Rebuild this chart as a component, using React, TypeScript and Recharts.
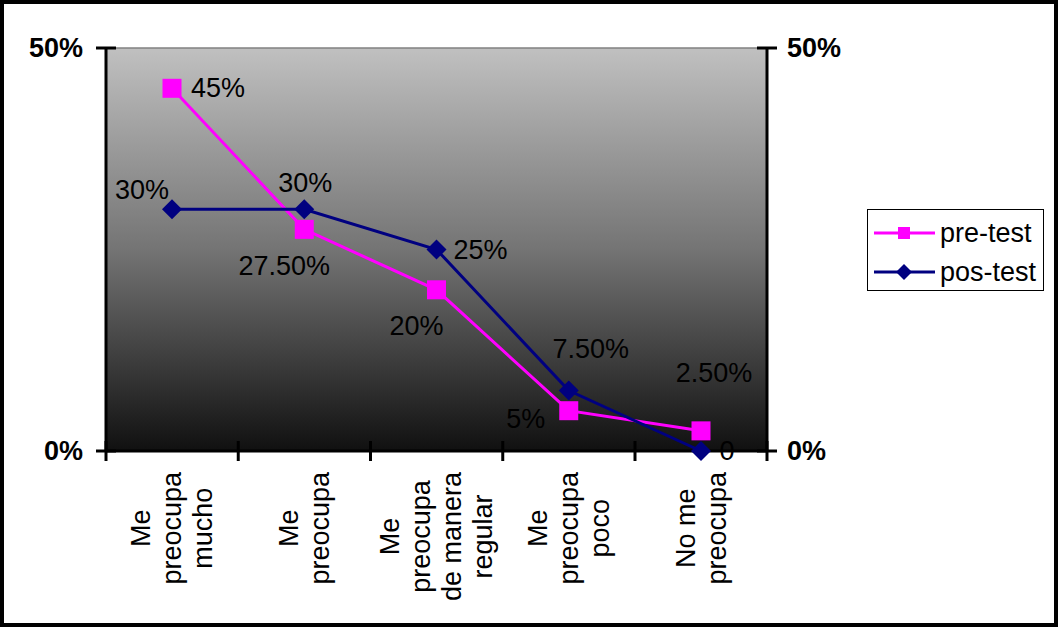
import React from 'react';
import { LineChart, Line, XAxis, YAxis, CartesianGrid, ReferenceLine } from 'recharts';

// Response categories (line breaks as printed under the axis)
const categories = [
  'Me\npreocupa\nmucho',
  'Me\npreocupa',
  'Me\npreocupa\nde manera\nregular',
  'Me\npreocupa\npoco',
  'No me\npreocupa',
];

// Percent of respondents per category
const preTest = [45, 27.5, 20, 5, 2.5];
const posTest = [30, 30, 25, 7.5, 0];

const yTicks = [0, 50];

// Where each value label sits relative to its point: [dx of text centre, dy of baseline]
const preLabelOffsets: [number, number][] = [[46, 9], [-20, 46], [-20, 45], [-43, 17], [13, -49]];
const posLabelOffsets: [number, number][] = [[-30, -10], [1, -17], [44, 9], [22, -33], [26, 9]];

const data = categories.map((c, i) => ({ cat: c, pre: preTest[i], pos: posTest[i] }));

const W = 1058;
const H = 627;
const HALF_BAND = 66;
const FONT = "'Liberation Sans', Arial, sans-serif";
const FS = 27;
const PINK = '#ff00ff';
const NAVY = '#000080';

const fmtValue = (v: number) => (v === 0 ? '0' : Number.isInteger(v) ? `${v}%` : `${v.toFixed(2)}%`);

let measureCtx: CanvasRenderingContext2D | null = null;
const textWidth = (s: string) => {
  if (!measureCtx && typeof document !== 'undefined') {
    measureCtx = document.createElement('canvas').getContext('2d');
  }
  if (measureCtx) {
    measureCtx.font = `${FS}px ${FONT}`;
    return measureCtx.measureText(s).width;
  }
  return s.length * FS * 0.5;
};

const CategoryTick = (props: any) => {
  const { x, y, payload, index } = props;
  const lines = String(payload.value).split('\n');
  const maxW = Math.max(...lines.map(textWidth));
  const cy = y + 21 + maxW / 2;
  const lh = 31;
  const n = lines.length;
  return (
    <g>
      <line x1={x - HALF_BAND} x2={x - HALF_BAND} y1={y - 10} y2={y + 10} stroke="#000" strokeWidth={3} />
      {index === categories.length - 1 && (
        <line x1={x + HALF_BAND} x2={x + HALF_BAND} y1={y - 10} y2={y + 10} stroke="#000" strokeWidth={3} />
      )}
      <g transform={`rotate(-90, ${x}, ${cy})`}>
        {lines.map((l, i) => (
          <text
            key={i}
            x={x}
            y={cy + (i - (n - 1) / 2) * lh + FS * 0.35}
            textAnchor="middle"
            fontFamily={FONT}
            fontSize={FS}
            fill="#000"
          >
            {l}
          </text>
        ))}
      </g>
    </g>
  );
};

const YTick = (props: any) => {
  const { x, y, payload, side } = props;
  const right = side === 'right';
  return (
    <g>
      <line x1={x - 10} x2={x + 10} y1={y} y2={y} stroke="#000" strokeWidth={3} />
      <text
        x={right ? x + 20 : x - 23}
        y={y + 9}
        textAnchor={right ? 'start' : 'end'}
        fontFamily={FONT}
        fontSize={FS}
        fontWeight="bold"
        fill="#000"
      >
        {`${payload.value}%`}
      </text>
    </g>
  );
};

const makeLabel = (offsets: [number, number][]) => (p: any) => {
  const { x, y, value, index } = p;
  const [dx, dy] = offsets[index] || [0, 0];
  return (
    <text key={`lbl-${index}`} x={x + dx} y={y + dy} textAnchor="middle" fontFamily={FONT} fontSize={FS} fill="#000">
      {fmtValue(Number(value))}
    </text>
  );
};

const SquareDot = (p: any) => {
  const { cx, cy, index } = p;
  if (cx == null || cy == null) return <g key={`sq-${index}`} />;
  return <rect key={`sq-${index}`} x={cx - 9.5} y={cy - 9.5} width={19} height={19} fill={PINK} />;
};

const DiamondDot = (p: any) => {
  const { cx, cy, index } = p;
  if (cx == null || cy == null) return <g key={`dm-${index}`} />;
  return (
    <polygon
      key={`dm-${index}`}
      points={`${cx},${cy - 10} ${cx + 10},${cy} ${cx},${cy + 10} ${cx - 10},${cy}`}
      fill={NAVY}
    />
  );
};

const LegendBox = () => {
  const row = (name: string, color: string, marker: 'square' | 'diamond') => (
    <div style={{ display: 'flex', alignItems: 'center', height: 39 }}>
      <svg width={66} height={24} style={{ display: 'block' }}>
        <line x1={0} x2={61} y1={12} y2={12} stroke={color} strokeWidth={3} />
        {marker === 'square' ? (
          <rect x={24} y={6} width={12} height={12} fill={color} />
        ) : (
          <polygon points="30,4 38,12 30,20 22,12" fill={color} />
        )}
      </svg>
      <span style={{ fontFamily: FONT, fontSize: FS, color: '#000', lineHeight: '26px' }}>{name}</span>
    </div>
  );
  return (
    <div
      style={{
        position: 'absolute',
        left: 867,
        top: 209,
        boxSizing: 'border-box',
        width: 177,
        height: 82,
        border: '1.5px solid #000',
        background: '#fff',
        padding: '3px 0 0 6px',
      }}
    >
      {row('pre-test', PINK, 'square')}
      {row('pos-test', NAVY, 'diamond')}
    </div>
  );
};

export default function App() {
  return (
    <div style={{ position: 'absolute', left: 0, top: 0, width: W, height: H, background: '#fff' }}>
      <LineChart
        width={W}
        height={H}
        data={data}
        margin={{ top: 48, right: 231, bottom: 26, left: 46 }}
        style={{ position: 'absolute', left: 0, top: 0 }}
      >
        <defs>
          <linearGradient id="plotShade" x1="0" y1="0" x2="0" y2="1">
            <stop offset="0%" stopColor="#c0c0c0" />
            <stop offset="50%" stopColor="#747474" />
            <stop offset="100%" stopColor="#101010" />
          </linearGradient>
        </defs>
        <CartesianGrid fill="url(#plotShade)" horizontal={false} vertical={false} />
        <XAxis
          dataKey="cat"
          xAxisId="x"
          interval={0}
          height={150}
          padding={{ left: HALF_BAND, right: HALF_BAND }}
          axisLine={{ stroke: '#000', strokeWidth: 3 }}
          tickLine={false}
          tickSize={0}
          tickMargin={0}
          tick={<CategoryTick />}
        />
        <YAxis
          yAxisId="left"
          orientation="left"
          width={60}
          domain={[0, 50]}
          ticks={yTicks}
          axisLine={{ stroke: '#000', strokeWidth: 3 }}
          tickLine={false}
          tickSize={0}
          tickMargin={0}
          tick={<YTick side="left" />}
        />
        <YAxis
          yAxisId="right"
          orientation="right"
          width={60}
          domain={[0, 50]}
          ticks={yTicks}
          axisLine={{ stroke: '#000', strokeWidth: 3 }}
          tickLine={false}
          tickSize={0}
          tickMargin={0}
          tick={<YTick side="right" />}
        />
        <ReferenceLine xAxisId="x" yAxisId="left" y={50} stroke="#808080" strokeWidth={1.5} />
        <Line
          xAxisId="x"
          yAxisId="left"
          dataKey="pre"
          name="pre-test"
          stroke={PINK}
          strokeWidth={3}
          dot={<SquareDot />}
          activeDot={false}
          label={makeLabel(preLabelOffsets)}
          isAnimationActive={false}
        />
        <Line
          xAxisId="x"
          yAxisId="right"
          dataKey="pos"
          name="pos-test"
          stroke={NAVY}
          strokeWidth={3}
          dot={<DiamondDot />}
          activeDot={false}
          label={makeLabel(posLabelOffsets)}
          isAnimationActive={false}
        />
      </LineChart>
      <LegendBox />
      <div
        style={{
          position: 'absolute',
          left: 0,
          top: 0,
          width: W,
          height: H,
          boxSizing: 'border-box',
          border: '4px solid #000',
          pointerEvents: 'none',
        }}
      />
    </div>
  );
}
